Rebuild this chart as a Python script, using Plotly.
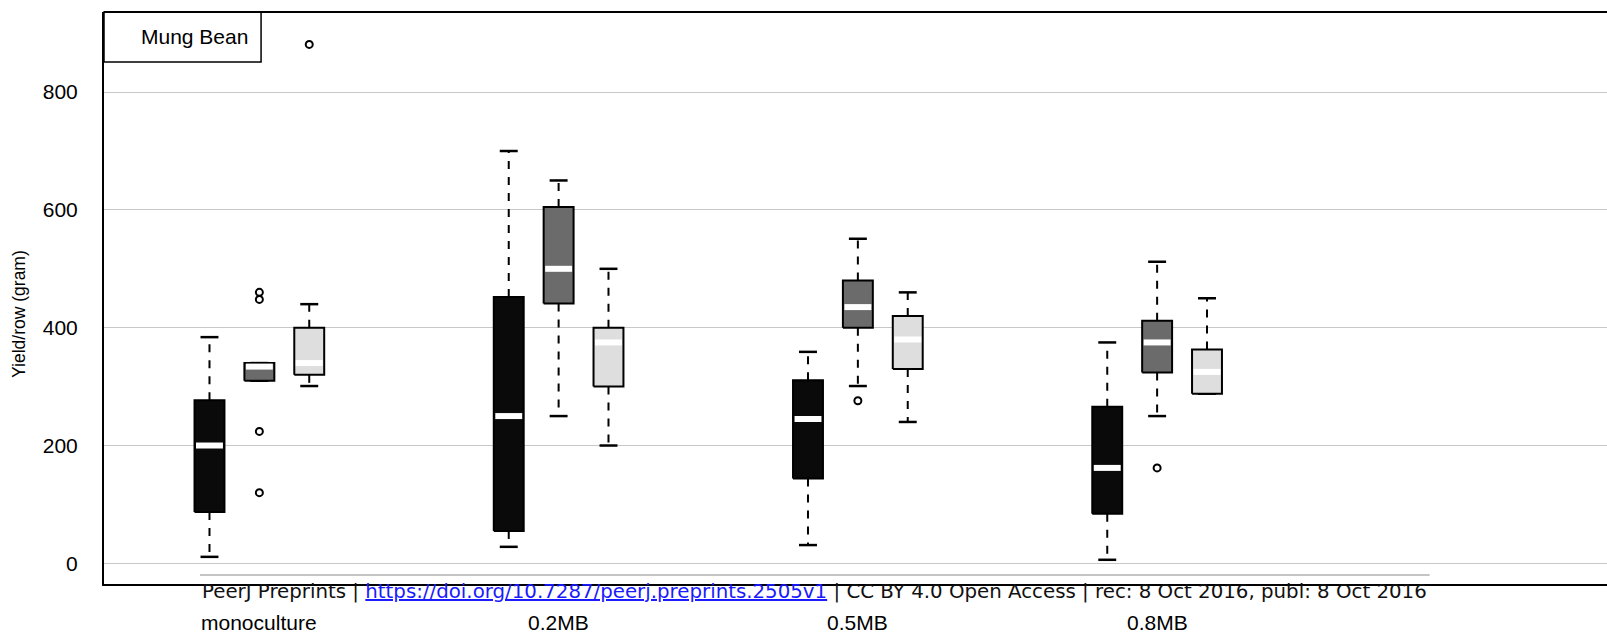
import plotly.graph_objects as go

# ---------------- data ----------------
categories = ["monoculture", "0.2MB", "0.5MB", "0.8MB"]
legend_label = "Mung Bean"
y_title = "Yield/row (gram)"
y_ticks = [0, 200, 400, 600, 800]
footer_left = "PeerJ Preprints | "
footer_link = "https://doi.org/10.7287/peerj.preprints.2505v1"
footer_right = " | CC BY 4.0 Open Access | rec: 8 Oct 2016, publ: 8 Oct 2016"

# box positions (R-style "at" positions)
pos_dark = [1, 7, 13, 19]
pos_mid = [2, 8, 14, 20]
pos_light = [3, 9, 15, 21]

# dark boxes
dark_low = [11, 28, 31, 6]
dark_q1 = [87, 55, 144, 84]
dark_med = [200, 250, 245, 162]
dark_q3 = [277, 452, 311, 266]
dark_high = [384, 700, 359, 375]

# mid-grey boxes
mid_low = [310, 250, 301, 250]
mid_q1 = [310, 441, 400, 324]
mid_med = [334, 500, 435, 375]
mid_q3 = [340, 605, 480, 412]
mid_high = [340, 650, 551, 512]
mid_out_x = [2, 2, 2, 2, 14, 20]
mid_out_y = [460, 448, 224, 120, 276, 162]

# light-grey boxes
light_low = [301, 200, 240, 288]
light_q1 = [320, 300, 330, 288]
light_med = [340, 375, 380, 325]
light_q3 = [400, 400, 420, 363]
light_high = [440, 500, 460, 450]
light_out_x = [3]
light_out_y = [881]

# ---------------- styles ----------------
BOX_HALF = 0.30
CAP_HALF = 0.18
MED_HALF = 0.27
FILL_DARK = "#0a0a0a"
FILL_MID = "#6b6b6b"
FILL_LIGHT = "#dedede"

fig = go.Figure()


def add_group(pos, low, q1, med, q3, high, fill):
    wx, wy, cx, cy, bx, by, mx, my = [], [], [], [], [], [], [], []
    for p, lo, a, m, b, hi in zip(pos, low, q1, med, q3, high):
        wx += [p, p, None, p, p, None]
        wy += [b, hi, None, a, lo, None]
        cx += [p - CAP_HALF, p + CAP_HALF, None, p - CAP_HALF, p + CAP_HALF, None]
        cy += [hi, hi, None, lo, lo, None]
        bx += [p - BOX_HALF, p + BOX_HALF, p + BOX_HALF, p - BOX_HALF, p - BOX_HALF, None]
        by += [a, a, b, b, a, None]
        mx += [p - MED_HALF, p + MED_HALF, None]
        my += [m, m, None]
    fig.add_trace(go.Scatter(x=wx, y=wy, mode="lines",
                             line=dict(color="black", width=2, dash="8px,8px")))
    fig.add_trace(go.Scatter(x=cx, y=cy, mode="lines",
                             line=dict(color="black", width=2.5)))
    fig.add_trace(go.Scatter(x=bx, y=by, mode="lines", fill="toself",
                             fillcolor=fill, line=dict(color="black", width=2)))
    fig.add_trace(go.Scatter(x=mx, y=my, mode="lines",
                             line=dict(color="white", width=6)))


add_group(pos_dark, dark_low, dark_q1, dark_med, dark_q3, dark_high, FILL_DARK)
add_group(pos_mid, mid_low, mid_q1, mid_med, mid_q3, mid_high, FILL_MID)
add_group(pos_light, light_low, light_q1, light_med, light_q3, light_high, FILL_LIGHT)

fig.add_trace(go.Scatter(x=mid_out_x + light_out_x, y=mid_out_y + light_out_y,
                         mode="markers",
                         marker=dict(symbol="circle-open", size=7, color="black",
                                     line=dict(width=2, color="black"))))

annotations = []
for p, lab in zip(pos_mid, categories):
    annotations.append(dict(x=p, xref="x", y=-0.068, yref="paper", text=lab,
                            showarrow=False, xanchor="center", yanchor="middle",
                            font=dict(family="Liberation Sans, Arial", size=21, color="black")))

annotations.append(dict(x=-0.0566, xref="paper", y=0.472, yref="paper", text=y_title,
                        textangle=-90, showarrow=False, xanchor="center", yanchor="middle",
                        font=dict(family="Liberation Sans, Arial", size=17.5, color="black")))

annotations.append(dict(x=0.0971, xref="paper", y=0.9563, yref="paper", text=legend_label,
                        showarrow=False, xanchor="right", yanchor="middle",
                        font=dict(family="Liberation Sans, Arial", size=21, color="black")))

footer = (footer_left + '<span style="color:#1a1aff"><u>' + footer_link + '</u></span>'
          + footer_right)
annotations.append(dict(x=0.064, xref="paper", y=-0.013, yref="paper", text=footer,
                        showarrow=False, xanchor="left", yanchor="middle",
                        font=dict(family="DejaVu Sans", size=19.8, color="#111111")))

shapes = [
    dict(type="line", xref="paper", yref="paper", x0=0, x1=1, y0=1, y1=1,
         line=dict(color="black", width=2)),
    dict(type="rect", xref="paper", yref="paper", x0=0, x1=0.1045, y0=0.9126, y1=1,
         line=dict(color="black", width=1.5), fillcolor="white", layer="below"),
    dict(type="line", xref="paper", yref="paper", x0=0.0639, x1=0.882, y0=0.0157, y1=0.0157,
         line=dict(color="#c4c4c4", width=2)),
]

fig.update_layout(
    width=1607, height=634,
    margin=dict(l=104, r=0, t=12, b=50),
    paper_bgcolor="white", plot_bgcolor="white",
    showlegend=False, hovermode=False,
    annotations=annotations, shapes=shapes,
    xaxis=dict(range=[-1.115, 29.02], showgrid=False, zeroline=False,
               showticklabels=False, ticks="", showline=True,
               linecolor="black", linewidth=2),
    yaxis=dict(range=[-35.1, 936], tickvals=y_ticks, showgrid=True,
               gridcolor="#c8c8c8", gridwidth=1, zeroline=False, ticks="",
               showline=True, linecolor="black", linewidth=2,
               ticklabelstandoff=20,
               tickfont=dict(family="Liberation Sans, Arial", size=21, color="black")),
)

fig.write_html("out.html")
